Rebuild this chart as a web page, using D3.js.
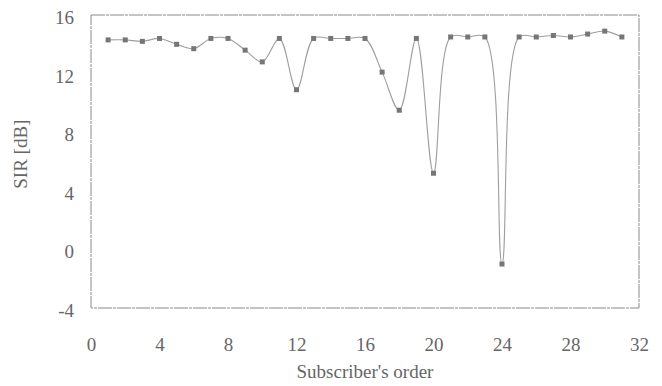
<!DOCTYPE html>
<html>
<head>
<meta charset="utf-8">
<script src="https://cdn.jsdelivr.net/npm/d3@7"></script>
<style>
  body { margin: 0; background: #fff; }
</style>
</head>
<body>
<div id="chart"></div>
<script>
// subscriber index and SIR
const subscribers = d3.range(1, 32);
const sirValues = [14.3, 14.3, 14.2, 14.4, 14.0, 13.7, 14.4, 14.4, 13.6, 12.8,
                   14.4, 10.9, 14.4, 14.4, 14.4, 14.4, 12.1, 9.5, 14.4, 5.2,
                   14.5, 14.5, 14.5, -1.0, 14.5, 14.5, 14.6, 14.5, 14.7, 14.9, 14.5];
const xTicks = [0, 4, 8, 12, 16, 20, 24, 28, 32];
const yTicks = [-4, 0, 4, 8, 12, 16];

const width = 662, height = 386;
const margin = { top: 15, right: 23, bottom: 78, left: 91 };
const serif = "'Liberation Serif'";

const svg = d3.select("#chart")
  .append("svg")
  .attr("width", width)
  .attr("height", height);

const x = d3.scaleLinear().domain([0, 32]).range([margin.left, width - margin.right]);
const y = d3.scaleLinear().domain([-4, 16]).range([height - margin.bottom, margin.top]);

// frame
svg.append("rect")
  .attr("x", x(0))
  .attr("y", y(16))
  .attr("width", x(32) - x(0))
  .attr("height", y(-4) - y(16))
  .attr("fill", "none")
  .attr("stroke", "#8a8a8a")
  .attr("stroke-width", 1)
  .attr("stroke-dasharray", "14,1,3,1");

// axes without lines, only labels
const xAxis = svg.append("g")
  .attr("transform", `translate(0,${y(-4)})`)
  .attr("font-family", null)
  .call(d3.axisBottom(x).tickValues(xTicks).tickSize(0).tickPadding(44).tickFormat(d => String(d)));
xAxis.attr("font-family", serif).attr("font-size", 19);
xAxis.select(".domain").remove();
xAxis.selectAll("text")
  .style("font-family", serif)
  .style("font-size", "19px")
  .attr("fill", "#666")
  .attr("dy", "-0.05em");

const yAxis = svg.append("g")
  .attr("transform", `translate(${x(0)},0)`)
  .call(d3.axisLeft(y).tickValues(yTicks).tickSize(0).tickPadding(17).tickFormat(d => String(d)));
yAxis.attr("font-family", serif).attr("font-size", 19);
yAxis.select(".domain").remove();
yAxis.selectAll("text")
  .style("font-family", serif)
  .style("font-size", "19px")
  .attr("fill", "#666")
  .attr("dy", "0.45em");

// smoothed line
const line = d3.line()
  .x((d, i) => x(subscribers[i]))
  .y(d => y(d))
  .curve(d3.curveCatmullRom.alpha(0.5));

svg.append("path")
  .datum(sirValues)
  .attr("d", line)
  .attr("fill", "none")
  .attr("stroke", "#9e9e9e")
  .attr("stroke-width", 1.1);

svg.selectAll("rect.marker")
  .data(sirValues)
  .join("rect")
  .classed("marker", true)
  .attr("x", (d, i) => x(subscribers[i]) - 2.5)
  .attr("y", d => y(d) - 2.5)
  .attr("width", 5)
  .attr("height", 5)
  .attr("fill", "#767676");

// axis titles
svg.append("text")
  .attr("x", (x(0) + x(32)) / 2)
  .attr("y", 378)
  .attr("text-anchor", "middle")
  .style("font-family", serif)
  .style("font-size", "19px")
  .attr("fill", "#666")
  .text("Subscriber's order");

svg.append("text")
  .attr("transform", `translate(27,${y(6.5)}) rotate(-90)`)
  .attr("text-anchor", "middle")
  .style("font-family", serif)
  .style("font-size", "19px")
  .attr("fill", "#666")
  .text("SIR [dB]");
</script>
</body>
</html>
